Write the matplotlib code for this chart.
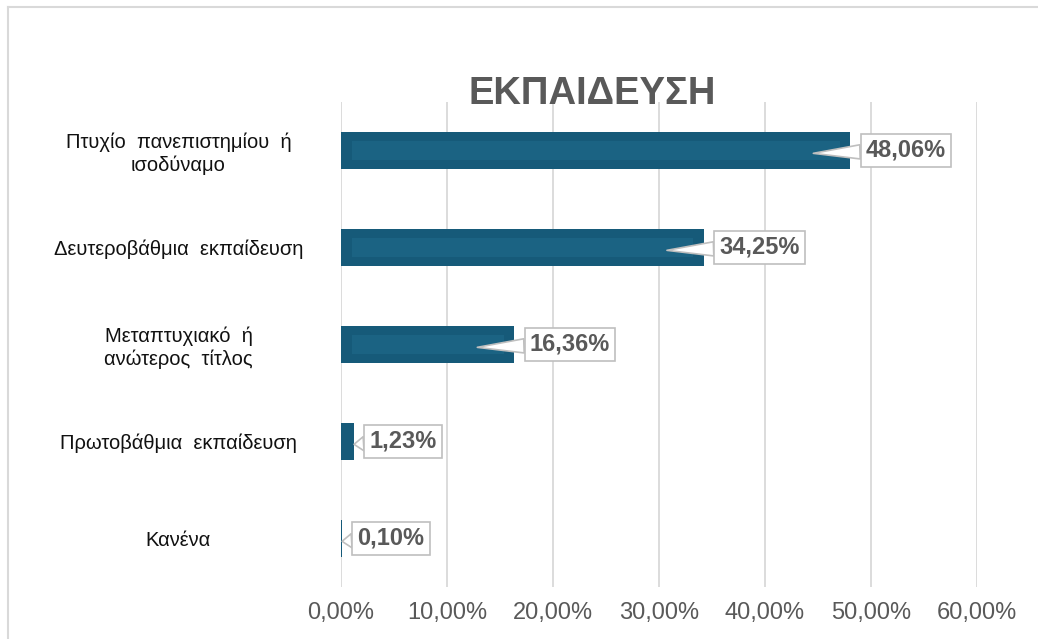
import matplotlib.pyplot as plt
from matplotlib.lines import Line2D

# ── данные ───────────────────────────────────────────────────────────────────
categories = [
    "Πτυχίο  πανεπιστημίου  ή\nισοδύναμο",
    "Δευτεροβάθμια  εκπαίδευση",
    "Μεταπτυχιακό  ή\nανώτερος  τίτλος",
    "Πρωτοβάθμια  εκπαίδευση",
    "Κανένα",
]
values = [48.06, 34.25, 16.36, 1.23, 0.10]
xticks = [0, 10, 20, 30, 40, 50, 60]

BAR = "#165a79"
BAR_IN = "#1b6383"
GRID = "#d9d9d9"
TXT = "#595959"

plt.rcParams["font.family"] = ["Liberation Sans", "DejaVu Sans"]

fig = plt.figure(figsize=(10.38, 6.39), dpi=100, facecolor="white")
ax = fig.add_axes([0.3285, 0.0815, 0.6127, 0.759])

pos = list(range(len(values)))
ax.barh(pos, values, height=0.39, color=BAR, zorder=3)
# светлая полоса внутри широких столбцов
for p, v in zip(pos, values):
    if v > 5:
        ax.barh(p, v - 2.0, left=1.0, height=0.19, color=BAR_IN, zorder=4)

ax.set_xlim(0, 60)
ax.set_ylim(4.5, -0.5)
ax.set_xticks(xticks)
ax.set_xticklabels([f"{t:.2f}%".replace(".", ",") for t in xticks],
                   color=TXT, fontsize=17)
ax.set_yticks(pos)
ax.set_yticklabels(categories, fontsize=14.5, color="#111111",
                   ha="center", linespacing=1.2)
ax.tick_params(axis="y", length=0, pad=117)
ax.tick_params(axis="x", length=0, pad=11)
ax.xaxis.grid(True, color=GRID, linewidth=1.3, zorder=0)
for s in ax.spines.values():
    s.set_visible(False)

# подписи-выноски
for p, v in zip(pos, values):
    tip = v - 3.5 if v > 5 else v
    ax.annotate(f"{v:.2f}%".replace(".", ","), xy=(tip, p + 0.03),
                xytext=(v + 1.45, p), textcoords="data",
                ha="left", va="center", fontsize=17, fontweight="bold",
                color=TXT, zorder=6,
                bbox=dict(boxstyle="square,pad=0.22", fc="white",
                          ec="#bfbfbf", lw=1.2),
                arrowprops=dict(arrowstyle="wedge,tail_width=0.6",
                                fc="white", ec="#bfbfbf", lw=1.2,
                                shrinkA=0, shrinkB=0))

fig.text(0.571, 0.853, "ΕΚΠΑΙΔΕΥΣΗ", ha="center", va="center",
         fontsize=27.5, fontweight="bold", color=TXT)

# рамка
fig.add_artist(Line2D([0.0075, 0.0075], [0, 0.989], color=GRID, lw=1.5))
fig.add_artist(Line2D([0.0075, 1], [0.989, 0.989], color=GRID, lw=1.5))

plt.savefig("out.png", dpi=100, facecolor="white")
